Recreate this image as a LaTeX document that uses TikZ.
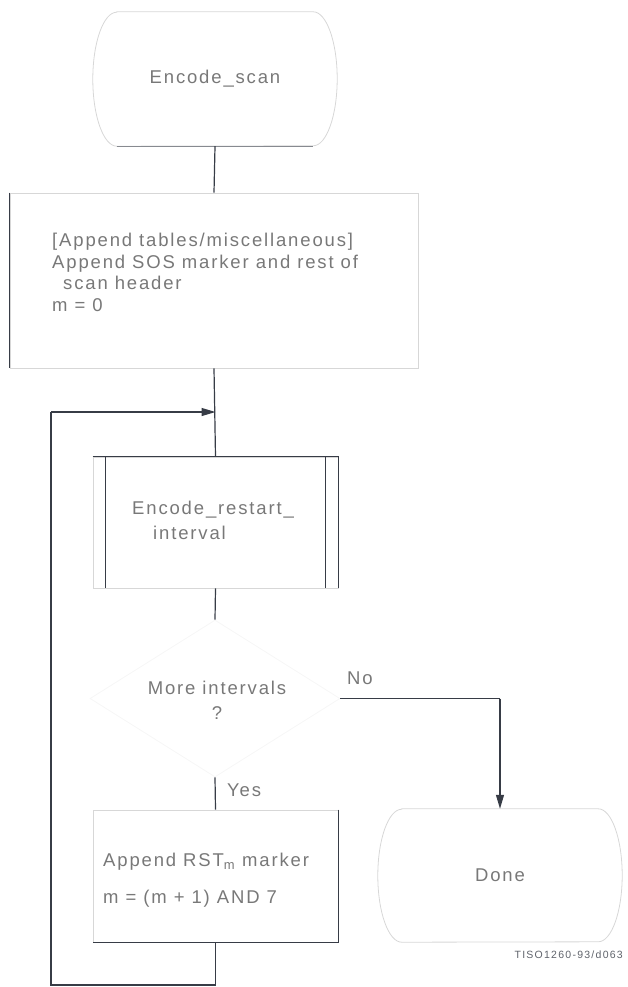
\documentclass[tikz,border=0pt]{standalone}
\usepackage{fontspec}
\setmainfont{Liberation Sans}[LetterSpace=10]
\newfontfamily\capfont{Liberation Sans}[LetterSpace=12]
\usetikzlibrary{shapes.geometric,arrows.meta}
\definecolor{ink}{RGB}{55,60,70}
\definecolor{txt}{RGB}{120,120,120}
\definecolor{faint}{RGB}{215,215,215}
\definecolor{ghost}{RGB}{246,246,246}
\tikzset{
  box/.style={draw=faint, line width=0.8pt, minimum width=#1, inner sep=0pt},
  dark/.style={draw=ink, line width=1.3pt},
  conn/.style={draw=ink, line width=1.2pt},
  lbl/.style={text=txt, font=\fontsize{18.5}{21.7}\selectfont, inner sep=0pt},
  tip/.style={-{Triangle[length=14pt,width=8pt]}},
}
\begin{document}
\begin{tikzpicture}[x=1pt,y=-1pt]
\useasboundingbox (0,0) rectangle (627,987);
% ---- shapes (empty nodes, outlines drawn below)
\node[inner sep=0pt, minimum width=244pt, minimum height=134pt] (es) at (215,79) {};
\node[box=408pt, minimum height=175pt] (p1) at (214,280.5) {};
\node[box=245pt, minimum height=131pt] (pp) at (215.5,522.5) {};
\node[diamond, draw=ghost, line width=0.8pt, minimum width=250pt, minimum height=157pt, inner sep=0pt] (dec) at (215,698.5) {};
\node[box=245pt, minimum height=132pt] (p2) at (215.5,876) {};
\node[inner sep=0pt, minimum width=244pt, minimum height=133pt] (dn) at (500,875.5) {};
% terminal outlines
\draw[faint, line width=0.8pt] ([xshift=24pt]es.north west) -- ([xshift=-24pt]es.north east)
  arc[start angle=90, end angle=-90, x radius=24pt, y radius=67pt]
  -- ([xshift=24pt]es.south west)
  arc[start angle=270, end angle=90, x radius=24pt, y radius=67pt] -- cycle;
\draw[ink!60, line width=1pt] ([xshift=24pt]es.south west) -- ([xshift=-24pt]es.south east);
\draw[faint, line width=0.8pt] ([xshift=24pt]dn.north west) -- ([xshift=-24pt]dn.north east)
  arc[start angle=90, end angle=-90, x radius=24pt, y radius=66.5pt]
  -- ([xshift=24pt]dn.south west)
  arc[start angle=270, end angle=90, x radius=24pt, y radius=66.5pt] -- cycle;
% visible edges
\draw[dark] (p1.north west) -- (p1.south west);
\draw[dark] (pp.north west) -- (pp.north east) -- (pp.south east);
\draw[dark] ([xshift=13pt]pp.north west) -- ([xshift=13pt]pp.south west);
\draw[dark] ([xshift=-13pt]pp.north east) -- ([xshift=-13pt]pp.south east);
\draw[dark] (p2.north east) -- (p2.south east) -- (p2.south west);
% ---- texts
\node[lbl] (t0) at (es.center) {Encode\_scan};
\node[lbl, anchor=base west, align=left] (t1) at (52,311.5)
  {[Append tables/miscellaneous]\\Append SOS marker and rest of\\\hspace*{11pt}scan header\\m = 0};
\node[lbl, anchor=base west, align=left, font=\fontsize{18.5}{25}\selectfont] (t2) at (132,539.5)
  {Encode\_restart\_\\\hspace*{21pt}interval};
\node[lbl, align=center, font=\fontsize{18.5}{25}\selectfont] (t3) at (217,700) {More intervals\\?};
\node[lbl, anchor=base west, align=left, font=\fontsize{18.5}{37}\selectfont] (t4) at (103,903.5)
  {Append RST\textsubscript{m} marker\\m = (m + 1) AND 7};
\node[lbl] (t5) at (dn.center) {Done};
\node[lbl, anchor=west] (yes) at (227,790) {Yes};
\node[lbl, anchor=west] (no) at (347,678) {No};
\node[text=ink!80, font=\capfont\fontsize{10.5}{12}\selectfont, anchor=east, inner sep=0pt] (cap) at (623,955) {TISO1260-93/d063};
% ---- connectors
\coordinate (join) at (pp.north |- 0,412);
\coordinate (lt) at (51,412);
\coordinate (lb) at (51,985);
\coordinate (bj) at (p2.south |- lb);
\coordinate (nc) at (dn.north |- dec.east);
\draw[conn] (es.south) -- (p1.north);
\draw[conn] (p1.south) -- (pp.north);
\draw[conn] (pp.south) -- (dec.north);
\draw[conn] (dec.south) -- (p2.north);
\draw[conn] (p2.south) -- (bj) -- (lb) -- (lt);
\draw[conn, tip] (lt) -- (join);
\draw[conn] (dec.east) -- (nc);
\draw[conn, tip] (nc) -- (dn.north);
\end{tikzpicture}
\end{document}
